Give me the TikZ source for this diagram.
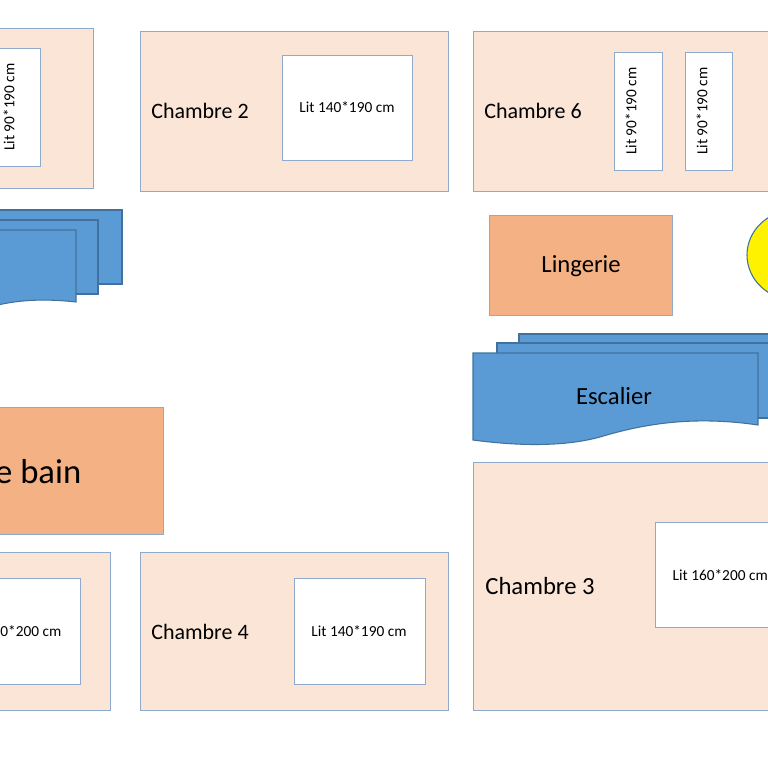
\documentclass[tikz,border=0pt]{standalone}
\usepackage{fontspec}
\setmainfont{Carlito}
\begin{document}
\begin{tikzpicture}[x=0.75pt,y=-0.75pt,
 box/.style 2 args={minimum width=#1*0.75pt,minimum height=#2*0.75pt,anchor=north west,inner sep=0},
 room/.style={draw=edge,fill=peach,line width=0.8pt},
 bed/.style={draw=edge,fill=white,line width=0.8pt},
 orange/.style={draw=edge,fill=orng,line width=0.8pt},
 stair/.style={draw=stairedge,fill=stairblue,line width=0.8pt},
 lbl/.style={font=\fontsize{16.5}{18}\selectfont},
 big/.style={font=\fontsize{18.5}{20}\selectfont},
 bl/.style={font=\fontsize{11.5}{12}\selectfont}]
\definecolor{peach}{HTML}{FBE5D6}
\definecolor{edge}{HTML}{8FAACC}
\definecolor{orng}{HTML}{F4B183}
\definecolor{stairblue}{HTML}{5B9BD5}
\definecolor{stairedge}{HTML}{41719C}
\useasboundingbox (0,0) rectangle (768,768);
\clip (0,0) rectangle (768,768);
% top-left room
\node[room,box={112}{160}] (r1) at (-19,28) {};
\node[bed,box={50}{118}] (b1) at (-10,48) {};
\node[bl,rotate=90] (t1) at (9,107) {Lit 90*190 cm};
% Chambre 2
\node[room,box={308}{160}] (r2) at (140,31) {};
\node[lbl] (l2) at (200,111) {Chambre 2};
\node[bed,box={130}{105}] (b2) at (282,55) {};
\node[bl] (t2) at (347,107) {Lit 140*190 cm};
% Chambre 6
\node[room,box={320}{160}] (r6) at (473,31) {};
\node[lbl] (l6) at (533,111) {Chambre 6};
\node[bed,box={48}{118}] (b6a) at (614,52) {};
\node[bl,rotate=90] (t6a) at (631,111) {Lit 90*190 cm};
\node[bed,box={47}{118}] (b6b) at (685,52) {};
\node[bl,rotate=90] (t6b) at (702,111) {Lit 90*190 cm};
% left stairs
\draw[stair] (-20,210) -- (122,210) -- (122,284) -- (-20,284) -- cycle;
\draw[stair] (-20,220) -- (98,220) -- (98,294) -- (-20,294) -- cycle;
\draw[stair] (-20,230) -- (76,230) -- (76,302) .. controls (40,298) and (10,300) .. (-20,310) -- cycle;
% Lingerie
\node[orange,box={183}{100}] (lin) at (489,215) {};
\node[big] (ll) at (581,266) {Lingerie};
% yellow
\draw[draw=stairedge,fill=yellow,line width=0.8pt] (795,255) ellipse (48 and 45);
% Escalier
\draw[stair] (519,334) -- (780,334) -- (780,410) -- (519,410) -- cycle;
\draw[stair] (497,343) -- (780,343) -- (780,418) -- (497,418) -- cycle;
\draw[stair] (473,353) -- (758,353) -- (758,425) .. controls (690,415) and (640,425) .. (600,437) .. controls (560,448) and (510,445) .. (473,440) -- cycle;
\node[big] (le) at (614,396) {Escalier};
% Salle de bain
\node[orange,box={183}{127}] (sdb) at (-20,407) {};
\node[font=\fontsize{26}{28}\selectfont,anchor=east] (lsdb) at (86,472) {Salle de bain};
% bottom-left room
\node[room,box={130}{158}] (r5) at (-20,552) {};
\node[bed,box={100}{106}] (b5) at (-20,578) {};
\node[bl,anchor=east] (t5) at (66,631) {Lit 160*200 cm};
% Chambre 4
\node[room,box={308}{158}] (r4) at (140,552) {};
\node[lbl] (l4) at (200,632) {Chambre 4};
\node[bed,box={131}{106}] (b4) at (294,578) {};
\node[bl] (t4) at (359,631) {Lit 140*190 cm};
% Chambre 3
\node[room,box={320}{248}] (r3) at (473,462) {};
\node[big] (l3) at (540,586) {Chambre 3};
\node[bed,box={130}{105}] (b3) at (655,522) {};
\node[bl,anchor=west] (t3) at (668,575) {Lit 160*200 cm};
\end{tikzpicture}
\end{document}
